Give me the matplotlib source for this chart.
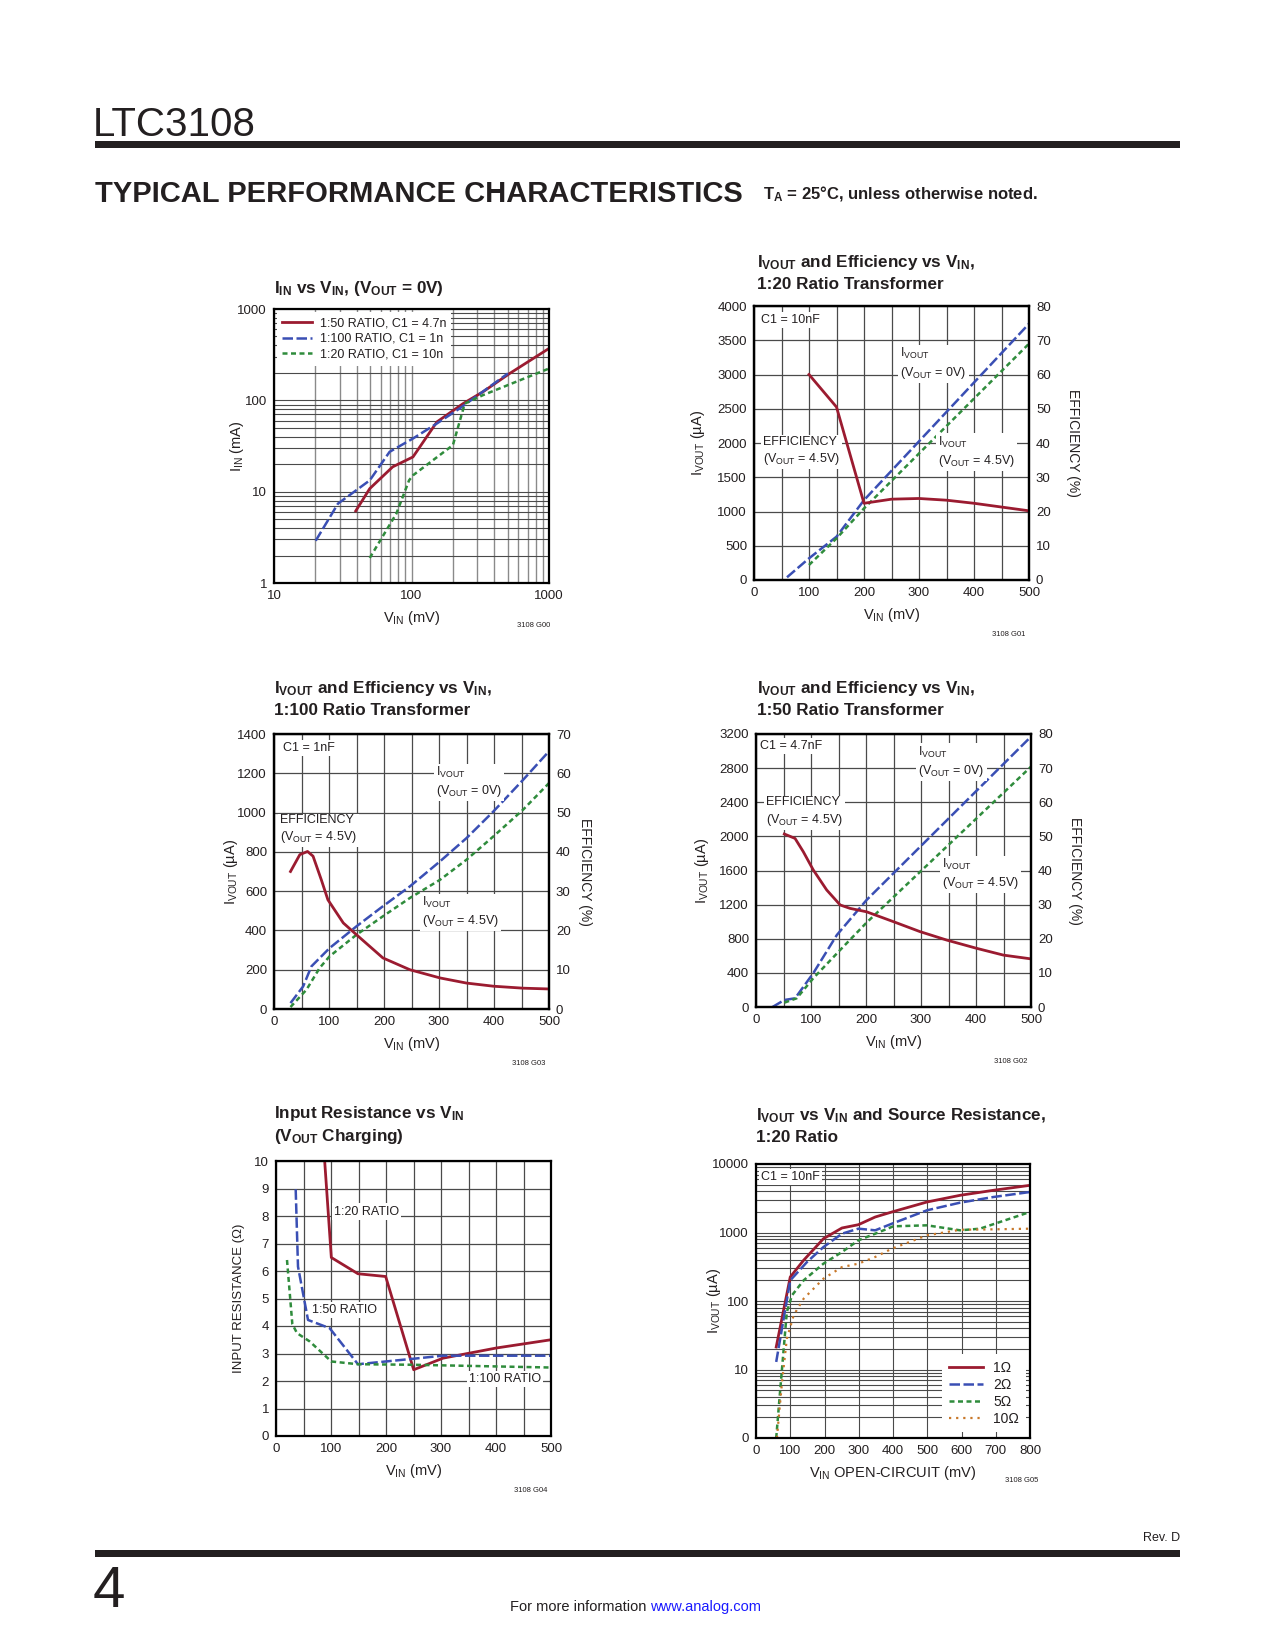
import matplotlib
matplotlib.use('Agg')
import matplotlib.pyplot as plt
from matplotlib.patches import Rectangle
from matplotlib.ticker import FixedLocator, NullFormatter, LogLocator

plt.rcParams['font.family'] = ['Liberation Sans Narrow', 'Liberation Sans', 'DejaVu Sans']
plt.rcParams['mathtext.default'] = 'regular'

W, H = 1275, 1650

RED = '#9b1b30'
BLUE = '#3a4fb4'
GREEN = '#2f8c3c'
ORANGE = '#c8782a'
INK = '#231f20'
GRID = '#4a4a4a'

# ---- chart 1: IIN vs VIN (log-log)
c1_r50_x = [39.3, 49.7, 73, 102.5, 153, 237, 331, 518, 1000]
c1_r50_y = [6.15, 10.8, 18.7, 24, 58, 92, 124, 197, 370]
c1_r100_x = [20.1, 29.2, 49.7, 69.3, 102.5, 153, 224, 503]
c1_r100_y = [2.9, 7.4, 13.3, 27.3, 38.2, 55.8, 81.5, 197]
c1_r20_x = [49.7, 77.6, 96, 102.5, 200, 244, 331, 1000]
c1_r20_y = [1.88, 5.75, 13.3, 15.1, 32.3, 92, 114, 223]

# ---- chart 2: 1:20 ratio
c2_eff_x = [100, 150, 200, 250, 300, 350, 400, 500]
c2_eff_y = [60, 50.5, 22.4, 23.6, 23.8, 23.3, 22.4, 20.2]
c2_i0_x = [60, 100, 150, 200, 500]
c2_i0_y = [40, 316, 632, 1166, 3741]
c2_i45_x = [100, 150, 200, 500]
c2_i45_y = [219, 607, 1045, 3450]

# ---- chart 3: 1:100 ratio
c3_eff_x = [30, 47, 61, 71, 86, 98, 126, 150, 198, 247, 302, 350, 399, 453, 500]
c3_eff_y = [35, 39.3, 40.1, 38.9, 32.9, 27.8, 21.9, 18.9, 13, 10, 7.9, 6.6, 5.8, 5.3, 5.1]
c3_i0_x = [30, 53, 68, 101, 150, 198, 247, 302, 350, 399, 453, 500]
c3_i0_y = [30, 115, 217, 310, 421, 523, 624, 752, 870, 1006, 1167, 1312]
c3_i45_x = [30, 59, 83, 101, 150, 198, 247, 302, 350, 399, 453, 500]
c3_i45_y = [10, 98, 209, 268, 378, 472, 565, 658, 760, 879, 1015, 1150]

# ---- chart 4: 1:50 ratio
c4_eff_x = [51.5, 71, 86, 104, 128.5, 153, 171, 201, 250, 298, 347, 401, 450, 500]
c4_eff_y = [50.7, 49.4, 45.5, 40.2, 34.3, 29.9, 28.9, 27.9, 25, 22.1, 19.6, 17.2, 15.2, 14.1]
c4_i0_x = [30, 51.5, 71, 104, 147, 201, 500]
c4_i0_y = [0, 82, 102, 395, 844, 1254, 3169]
c4_i45_x = [51.5, 74, 104, 153, 201, 500]
c4_i45_y = [51, 102, 336, 668, 989, 2817]

# ---- chart 5: input resistance
c5_r20_x = [88.5, 100.6, 149, 199.4, 250.3, 303.6, 400.6, 500]
c5_r20_y = [10, 6.49, 5.9, 5.8, 2.41, 2.83, 3.2, 3.5]
c5_r50_x = [35.8, 40, 58.2, 97.6, 149, 250, 303.6, 500]
c5_r50_y = [8.97, 6.16, 4.22, 3.92, 2.61, 2.81, 2.92, 2.92]
c5_r100_x = [20, 29.7, 38.2, 61.2, 100.6, 149, 250, 500]
c5_r100_y = [6.4, 4.07, 3.74, 3.44, 2.71, 2.61, 2.59, 2.49]

# ---- chart 6: IVOUT vs VIN and source resistance
c6_1_x = [59, 100, 139, 197, 251, 299, 348, 397, 499, 596, 693, 800]
c6_1_y = [21.3, 224, 393, 813, 1164, 1300, 1683, 1995, 2786, 3492, 4130, 4884]
c6_2_x = [59, 100, 149, 197, 251, 299, 348, 397, 499, 596, 693, 800]
c6_2_y = [12.9, 200, 371, 614, 961, 1137, 1076, 1346, 2108, 2728, 3296, 3900]
c6_5_x = [59, 71, 90, 105, 139, 197, 251, 299, 348, 401, 499, 596, 654, 712, 800]
c6_5_y = [1, 5.25, 69, 121, 200, 351, 519, 769, 961, 1231, 1273, 1076, 1137, 1422, 1995]
c6_10_x = [61, 76, 90, 110, 139, 197, 251, 299, 348, 397, 499, 596, 693, 800]
c6_10_y = [1, 6.57, 28, 62, 108, 212, 313, 351, 439, 581, 909, 1097, 1112, 1137]

SOLID = dict(color=RED, lw=2.0, solid_joinstyle='round')
LONG = dict(color=BLUE, lw=1.8, dashes=(4.2, 1.4))
SHORT = dict(color=GREEN, lw=1.8, dashes=(2.0, 1.4))
DOT = dict(color=ORANGE, lw=1.6, dashes=(1.0, 2.2))

TITLE_FS = 12.3


def box(l, t, r, b):
    return [l / W, 1 - b / H, (r - l) / W, (b - t) / H]


def ftext(x, y, s, **kw):
    kw.setdefault('va', 'baseline')
    kw.setdefault('color', INK)
    return fig.text(x / W, 1 - y / H, s, **kw)


def frame(ax):
    for sp in ax.spines.values():
        sp.set_linewidth(1.6)
        sp.set_color('black')
    ax.tick_params(length=0, labelsize=9.5, pad=5, colors=INK)
    ax.set_axisbelow(True)


def label(ax, x, y, s):
    ax.text(x, y, s, fontsize=9, color=INK, va='center', ha='left', linespacing=1.3,
            bbox=dict(fc='white', ec='none', pad=1.5), zorder=3)


def ylab(ax, s, xpos, fs=10.5):
    ax.set_ylabel(s, fontsize=fs, color=INK)
    ax.yaxis.set_label_coords(xpos, 0.5)


def lin_chart(rect, xmax, xstep_grid, ymax, ystep, emax, estep, epos):
    ax = fig.add_axes(rect)
    frame(ax)
    ax.set_xlim(0, xmax)
    ax.set_ylim(0, ymax)
    ax.xaxis.set_major_locator(FixedLocator(range(0, xmax + 1, 100)))
    ax.xaxis.set_minor_locator(FixedLocator(range(0, xmax + 1, xstep_grid)))
    ax.yaxis.set_major_locator(FixedLocator(range(0, ymax + 1, ystep)))
    ax.grid(which='both', color=GRID, lw=0.9)
    ax.tick_params(which='minor', length=0)
    ax.set_xlabel('V$_{IN}$ (mV)', fontsize=10.5, color=INK, labelpad=5)
    ax2 = ax.twinx()
    ax2.set_ylim(0, emax)
    ax2.yaxis.set_major_locator(FixedLocator(range(0, emax + 1, estep)))
    frame(ax2)
    ax2.set_ylabel('EFFICIENCY (%)', rotation=270, fontsize=10, color=INK, va='center')
    ax2.yaxis.set_label_coords(epos, 0.5)
    return ax, ax2


fig = plt.figure(figsize=(W / 100, H / 100), dpi=100)

# ---------------- page header / footer
ftext(93, 136, 'LTC3108', fontsize=29)
fig.add_artist(Rectangle((95 / W, 1 - 148 / H), 1085 / W, 7 / H, transform=fig.transFigure,
                         color=INK, lw=0))
ftext(95, 202, 'TYPICAL PERFORMANCE CHARACTERISTICS', fontsize=21, fontweight='bold')
ftext(763, 199, 'T$_A$ = 25°C, unless otherwise noted.', fontsize=12, fontweight='bold')
ftext(1180, 1541, 'Rev. D', fontsize=9, ha='right')
fig.add_artist(Rectangle((95 / W, 1 - 1557 / H), 1085 / W, 7 / H, transform=fig.transFigure,
                         color=INK, lw=0))
ftext(93, 1607, '4', fontsize=42)
ftext(650, 1611, 'For more information ', fontsize=10.5, ha='right')
ftext(650, 1611, 'www.analog.com', fontsize=10.5, ha='left', color='#1a1aff')

# ---------------- chart 1
ax = fig.add_axes(box(274, 309, 549, 583))
frame(ax)
ax.set_xscale('log')
ax.set_yscale('log')
ax.set_xlim(10, 1000)
ax.set_ylim(1, 1000)
ax.xaxis.set_major_locator(FixedLocator([10, 100, 1000]))
ax.yaxis.set_major_locator(FixedLocator([1, 10, 100, 1000]))
ax.set_xticklabels(['10', '100', '1000'])
ax.set_yticklabels(['1', '10', '100', '1000'])
ax.xaxis.set_minor_locator(LogLocator(base=10, subs=range(2, 10)))
ax.yaxis.set_minor_locator(LogLocator(base=10, subs=range(2, 10)))
ax.xaxis.set_minor_formatter(NullFormatter())
ax.yaxis.set_minor_formatter(NullFormatter())
ax.tick_params(which='minor', length=0)
ax.grid(which='both', axis='x', color='#8a8a8a', lw=1.0)
ax.grid(which='both', axis='y', color=GRID, lw=0.8)
ax.plot(c1_r50_x, c1_r50_y, label='1:50 RATIO, C1 = 4.7n', **SOLID)
ax.plot(c1_r100_x, c1_r100_y, label='1:100 RATIO, C1 = 1n', **LONG)
ax.plot(c1_r20_x, c1_r20_y, label='1:20 RATIO, C1 = 10n', **SHORT)
leg = ax.legend(loc='upper left', bbox_to_anchor=(0.0, 1.0), fontsize=9, handlelength=2.4,
                frameon=True, fancybox=False, framealpha=1, edgecolor='none',
                borderaxespad=0.25, labelspacing=0.3, borderpad=0.4, handletextpad=0.6)
for t in leg.get_texts():
    t.set_color(INK)
ax.set_xlabel('V$_{IN}$ (mV)', fontsize=10.5, color=INK, labelpad=5)
ylab(ax, 'I$_{IN}$ (mA)', -0.1)
ftext(274, 293, 'I$_{IN}$ vs V$_{IN}$, (V$_{OUT}$ = 0V)', fontsize=TITLE_FS, fontweight='bold')
ftext(550, 627, '3108 G00', fontsize=5.5, ha='right')

# ---------------- chart 2
ax, ax2 = lin_chart(box(754, 306, 1029, 580), 500, 50, 4000, 500, 80, 10, 1.16)
ax2.plot(c2_eff_x, c2_eff_y, **SOLID)
ax.plot(c2_i0_x, c2_i0_y, **LONG)
ax.plot(c2_i45_x, c2_i45_y, **SHORT)
ylab(ax, 'I$_{VOUT}$ (µA)', -0.17)
label(ax, 12, 3800, 'C1 = 10nF')
label(ax, 266, 3160, 'I$_{VOUT}$\n(V$_{OUT}$ = 0V)')
label(ax, 17, 1880, 'EFFICIENCY\n(V$_{OUT}$ = 4.5V)')
label(ax, 335, 1870, 'I$_{VOUT}$\n(V$_{OUT}$ = 4.5V)')
ftext(757, 267, 'I$_{VOUT}$ and Efficiency vs V$_{IN}$,', fontsize=TITLE_FS, fontweight='bold')
ftext(757, 289, '1:20 Ratio Transformer', fontsize=TITLE_FS, fontweight='bold')
ftext(1025, 636, '3108 G01', fontsize=5.5, ha='right')

# ---------------- chart 3
ax, ax2 = lin_chart(box(274, 734, 549, 1009), 500, 50, 1400, 200, 70, 10, 1.13)
ax2.plot(c3_eff_x, c3_eff_y, **SOLID)
ax.plot(c3_i0_x, c3_i0_y, **LONG)
ax.plot(c3_i45_x, c3_i45_y, **SHORT)
ylab(ax, 'I$_{VOUT}$ (µA)', -0.125)
label(ax, 16, 1329, 'C1 = 1nF')
label(ax, 294, 1156, 'I$_{VOUT}$\n(V$_{OUT}$ = 0V)')
label(ax, 11, 913, 'EFFICIENCY\n(V$_{OUT}$ = 4.5V)')
label(ax, 270, 494, 'I$_{VOUT}$\n(V$_{OUT}$ = 4.5V)')
ftext(274, 693, 'I$_{VOUT}$ and Efficiency vs V$_{IN}$,', fontsize=TITLE_FS, fontweight='bold')
ftext(274, 715, '1:100 Ratio Transformer', fontsize=TITLE_FS, fontweight='bold')
ftext(545, 1065, '3108 G03', fontsize=5.5, ha='right')

# ---------------- chart 4
ax, ax2 = lin_chart(box(756, 734, 1031, 1007), 500, 50, 3200, 400, 80, 10, 1.16)
ax2.plot(c4_eff_x, c4_eff_y, **SOLID)
ax.plot(c4_i0_x, c4_i0_y, **LONG)
ax.plot(c4_i45_x, c4_i45_y, **SHORT)
ylab(ax, 'I$_{VOUT}$ (µA)', -0.165)
label(ax, 7, 3060, 'C1 = 4.7nF')
label(ax, 295, 2876, 'I$_{VOUT}$\n(V$_{OUT}$ = 0V)')
label(ax, 18, 2286, 'EFFICIENCY\n(V$_{OUT}$ = 4.5V)')
label(ax, 338, 1559, 'I$_{VOUT}$\n(V$_{OUT}$ = 4.5V)')
ftext(757, 693, 'I$_{VOUT}$ and Efficiency vs V$_{IN}$,', fontsize=TITLE_FS, fontweight='bold')
ftext(757, 715, '1:50 Ratio Transformer', fontsize=TITLE_FS, fontweight='bold')
ftext(1027, 1063, '3108 G02', fontsize=5.5, ha='right')

# ---------------- chart 5
ax = fig.add_axes(box(276, 1161, 551, 1436))
frame(ax)
ax.set_xlim(0, 500)
ax.set_ylim(0, 10)
ax.xaxis.set_major_locator(FixedLocator(range(0, 501, 100)))
ax.xaxis.set_minor_locator(FixedLocator(range(0, 501, 50)))
ax.yaxis.set_major_locator(FixedLocator(range(0, 11)))
ax.tick_params(which='minor', length=0)
ax.grid(which='both', color=GRID, lw=0.9)
ax.plot(c5_r20_x, c5_r20_y, **SOLID)
ax.plot(c5_r50_x, c5_r50_y, **LONG)
ax.plot(c5_r100_x, c5_r100_y, **SHORT)
ax.set_xlabel('V$_{IN}$ (mV)', fontsize=10.5, color=INK, labelpad=5)
ylab(ax, 'INPUT RESISTANCE (Ω)', -0.112, fs=9.5)
label(ax, 105, 8.16, '1:20 RATIO')
label(ax, 65, 4.59, '1:50 RATIO')
label(ax, 351, 2.08, '1:100 RATIO')
ftext(274, 1118, 'Input Resistance vs V$_{IN}$', fontsize=TITLE_FS, fontweight='bold')
ftext(274, 1141, '(V$_{OUT}$ Charging)', fontsize=TITLE_FS, fontweight='bold')
ftext(547, 1492, '3108 G04', fontsize=5.5, ha='right')

# ---------------- chart 6
ax = fig.add_axes(box(756, 1164, 1030, 1438))
frame(ax)
ax.set_yscale('log')
ax.set_xlim(0, 800)
ax.set_ylim(1, 10000)
ax.xaxis.set_major_locator(FixedLocator(range(0, 801, 100)))
ax.yaxis.set_major_locator(FixedLocator([1, 10, 100, 1000, 10000]))
ax.set_yticklabels(['0', '10', '100', '1000', '10000'])
ax.yaxis.set_minor_locator(LogLocator(base=10, subs=range(2, 10)))
ax.yaxis.set_minor_formatter(NullFormatter())
ax.tick_params(which='minor', length=0)
ax.grid(which='both', color=GRID, lw=0.8)
ax.plot(c6_1_x, c6_1_y, label='1Ω', **SOLID)
ax.plot(c6_2_x, c6_2_y, label='2Ω', **LONG)
ax.plot(c6_5_x, c6_5_y, label='5Ω', **SHORT)
ax.plot(c6_10_x, c6_10_y, label='10Ω', **DOT)
leg = ax.legend(loc='lower right', bbox_to_anchor=(0.995, 0.01), fontsize=10, handlelength=2.5,
                frameon=True, fancybox=False, framealpha=1, edgecolor='none',
                borderaxespad=0.2, labelspacing=0.2, borderpad=0.5, handletextpad=0.7)
for t in leg.get_texts():
    t.set_color(INK)
ax.set_xlabel('V$_{IN}$ OPEN-CIRCUIT (mV)', fontsize=10.5, color=INK, labelpad=5)
ylab(ax, 'I$_{VOUT}$ (µA)', -0.12)
label(ax, 14, 6500, 'C1 = 10nF')
ftext(756, 1120, 'I$_{VOUT}$ vs V$_{IN}$ and Source Resistance,', fontsize=TITLE_FS, fontweight='bold')
ftext(756, 1142, '1:20 Ratio', fontsize=TITLE_FS, fontweight='bold')
ftext(1038, 1482, '3108 G05', fontsize=5.5, ha='right')

fig.savefig('out.png', dpi=100, facecolor='white')
